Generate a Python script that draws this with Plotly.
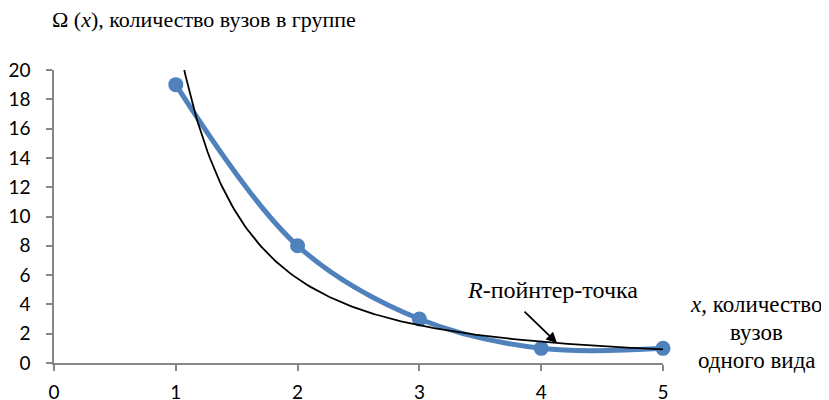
import numpy as np
import plotly.graph_objects as go

# data
x_vals = [1, 2, 3, 4, 5]
omega = [19, 8, 3, 1, 1]

x_ticks = [0, 1, 2, 3, 4, 5]
y_ticks = [0, 2, 4, 6, 8, 10, 12, 14, 16, 18, 20]

# power trendline fitted to the data (as in the original spreadsheet)
b, log_a = np.polyfit(np.log(x_vals), np.log(omega), 1)
trend_x = np.linspace(1, 5, 200)
trend_y = np.exp(log_a) * trend_x ** b
pointer_x = 4.13
pointer_y = np.exp(log_a) * pointer_x ** b

serif = "Liberation Serif, Times New Roman, serif"
sans = "Lato"
axis_color = "#868686"

fig = go.Figure()

fig.add_trace(go.Scatter(
    x=x_vals,
    y=omega,
    mode="lines+markers",
    line=dict(color="#4F81BD", width=5, shape="spline", smoothing=1),
    marker=dict(size=15, color="#4F81BD"),
    showlegend=False,
    cliponaxis=False,
))

fig.add_trace(go.Scatter(
    x=trend_x,
    y=trend_y,
    mode="lines",
    line=dict(color="black", width=1.8),
    showlegend=False,
))

# arrow to the R-pointer point
fig.add_annotation(
    x=pointer_x, y=pointer_y, xref="x", yref="y",
    ax=-34, ay=-33, text="",
    showarrow=True, arrowhead=2, arrowsize=1.2, arrowwidth=1.8,
    arrowcolor="black",
)
fig.add_annotation(
    x=4.09, y=5.0, xref="x", yref="y",
    text="<i>R</i>-пойнтер-точка", showarrow=False,
    font=dict(family=serif, size=24, color="black"),
)

# axis titles
fig.add_annotation(
    x=0, y=1.171, xref="paper", yref="paper", xshift=-4,
    xanchor="left", yanchor="middle", align="left",
    text="Ω (<i>x</i>), количество вузов в группе", showarrow=False,
    font=dict(family=serif, size=22, color="black"),
)
x_title = ["<i>x</i>, количество", "вузов", "одного вида"]
for i, line in enumerate(x_title):
    fig.add_annotation(
        x=1.154, y=0.201, xref="paper", yref="paper",
        yshift=-i * 28, xanchor="center", yanchor="middle",
        text=line, showarrow=False,
        font=dict(family=serif, size=23, color="black"),
    )

fig.update_xaxes(
    range=[0, 5],
    tickvals=x_ticks,
    showgrid=False,
    zeroline=False,
    automargin=False,
    showline=True, linecolor=axis_color, linewidth=1.5,
    ticks="outside", ticklen=6, tickcolor=axis_color, tickwidth=1.5,
    ticklabelstandoff=5,
    tickfont=dict(family=sans, size=19, color="black"),
)
fig.update_yaxes(
    range=[0, 20],
    tickvals=y_ticks,
    showgrid=False,
    zeroline=False,
    automargin=False,
    showline=True, linecolor=axis_color, linewidth=1.5,
    ticks="outside", ticklen=6, tickcolor=axis_color, tickwidth=1.5,
    ticklabelstandoff=12,
    tickfont=dict(family=sans, size=19, color="black"),
)

# the page adds an 8px body margin, so the figure is 8px smaller
fig.update_layout(
    width=821,
    height=392,
    margin=dict(l=46, r=166, t=62, b=37, autoexpand=False),
    plot_bgcolor="white",
    paper_bgcolor="white",
)

fig.write_html("out.html")
